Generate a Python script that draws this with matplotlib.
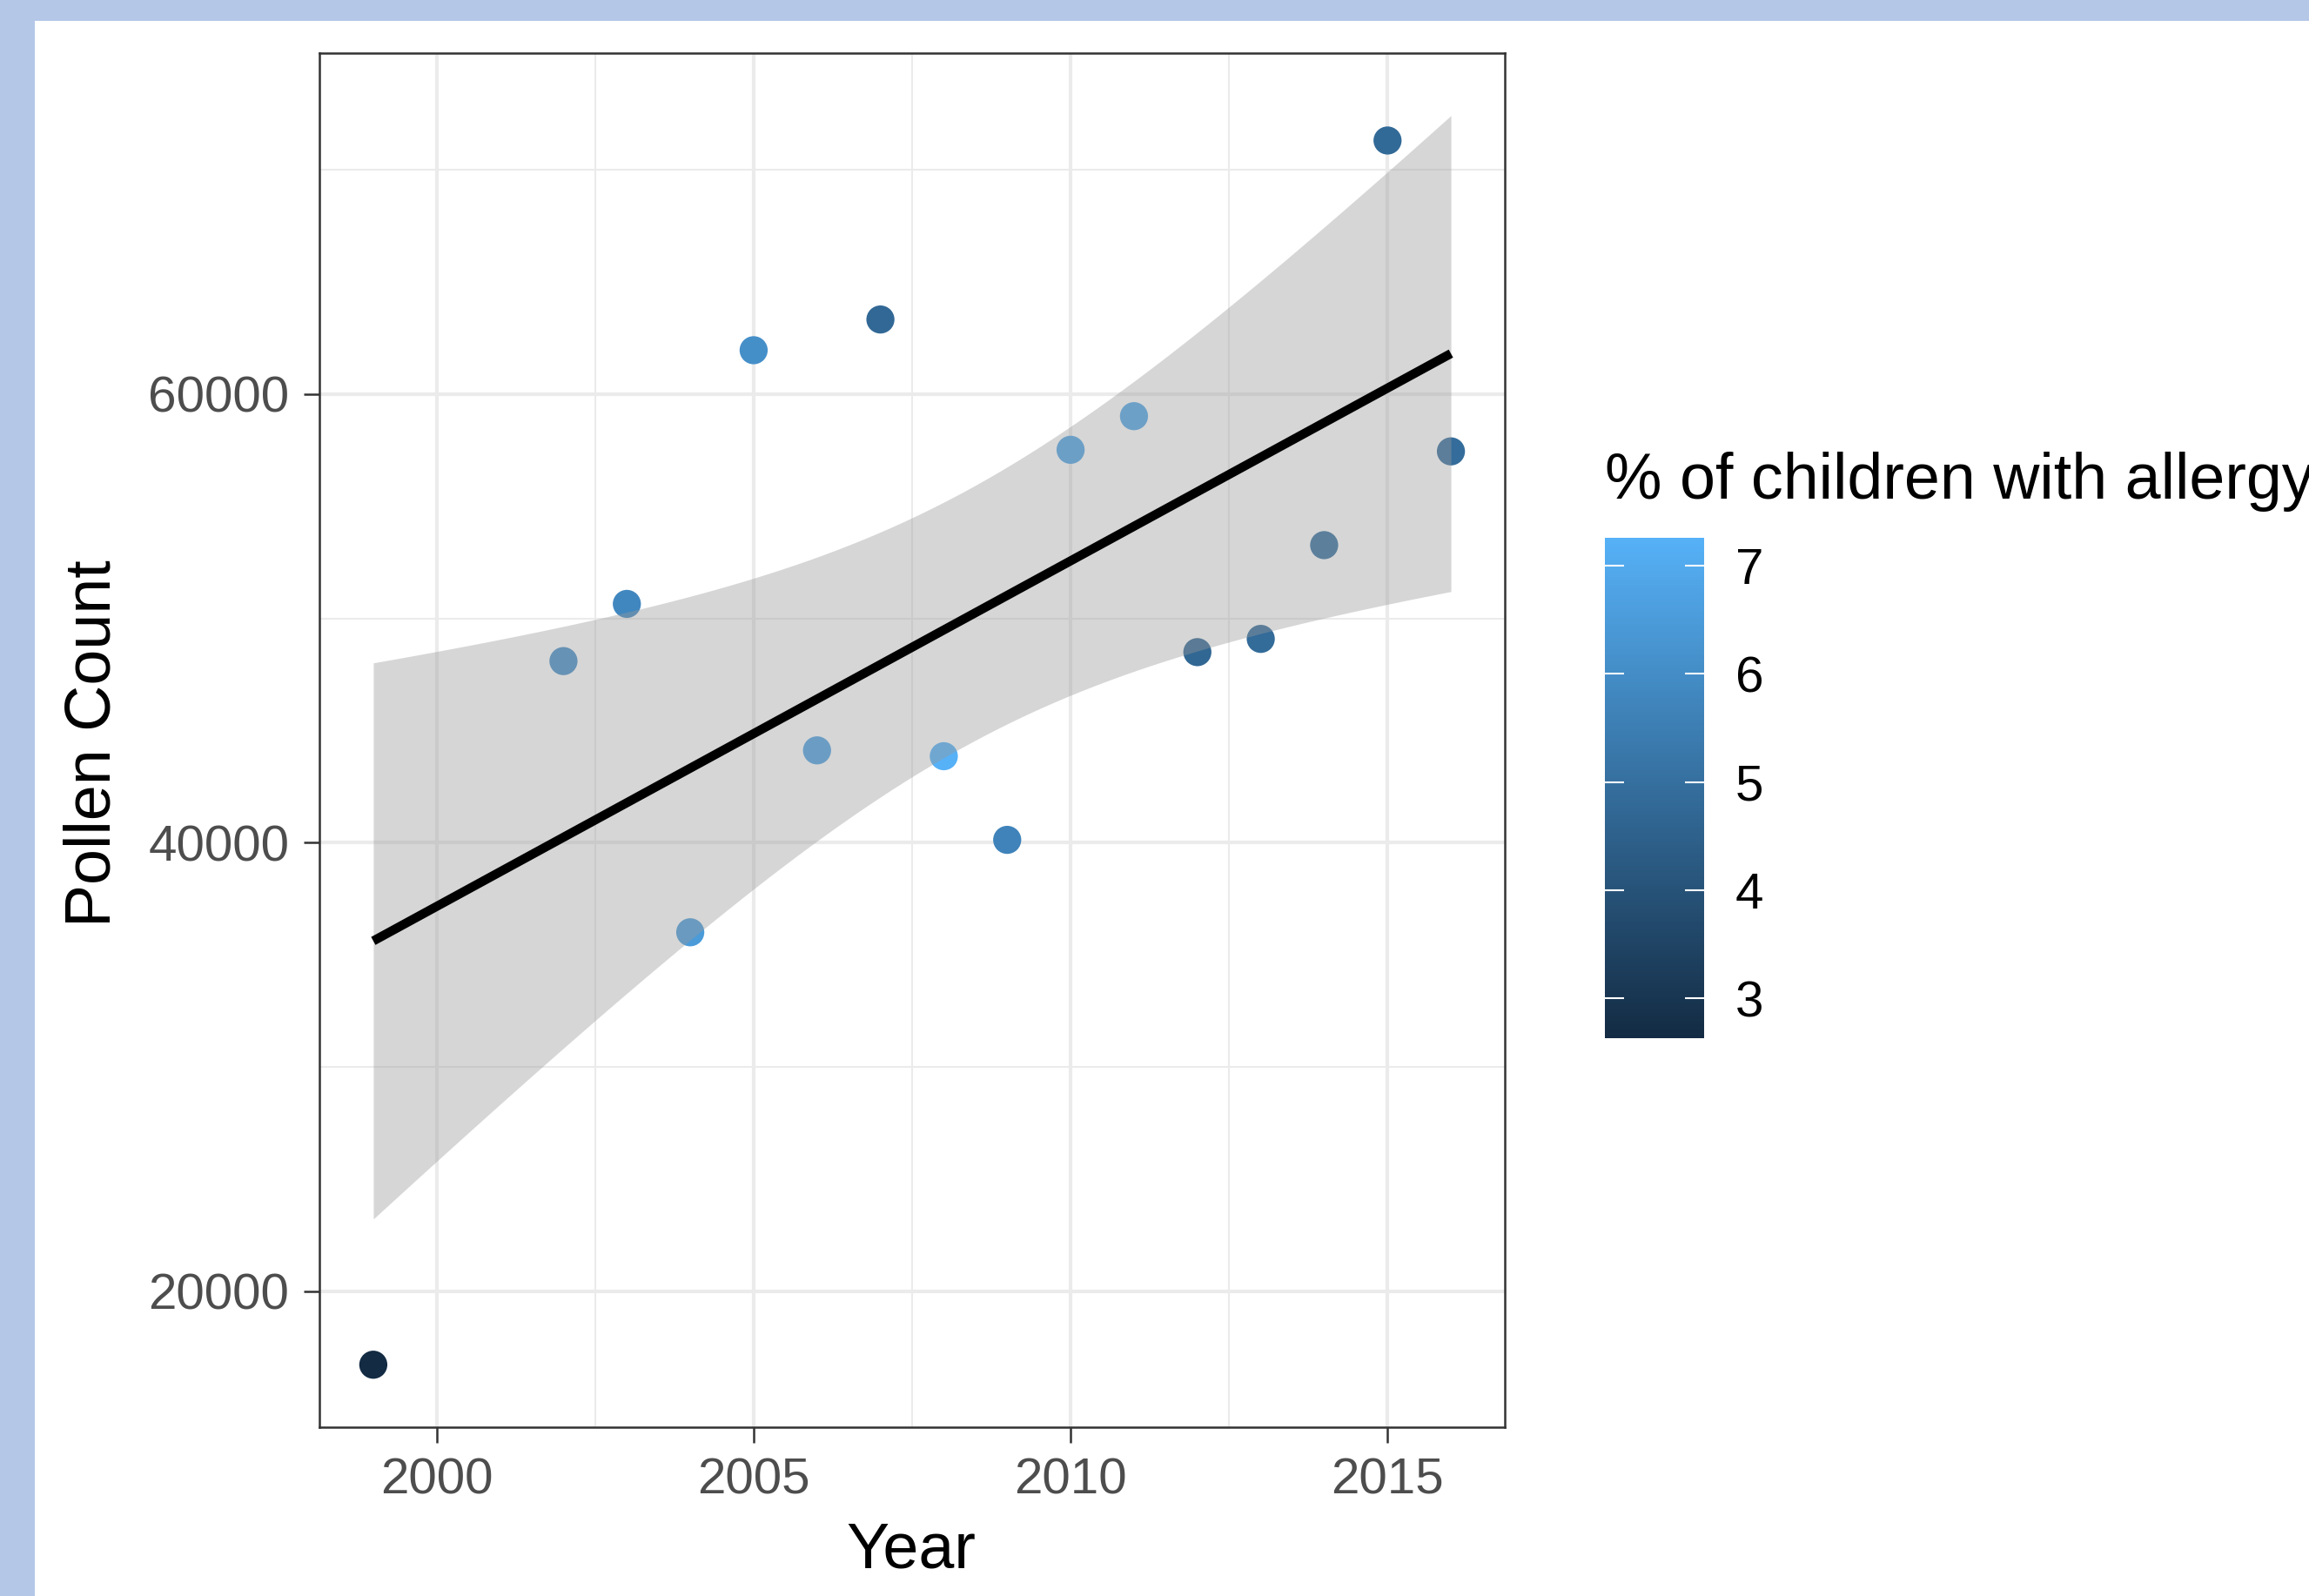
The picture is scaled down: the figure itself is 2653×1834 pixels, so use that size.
import numpy as np
import matplotlib
matplotlib.use('Agg')
import matplotlib.pyplot as plt
from matplotlib.colors import LinearSegmentedColormap, Normalize
from matplotlib.patches import Rectangle
from matplotlib.cm import ScalarMappable

plt.rcParams['font.family'] = ['Liberation Sans', 'DejaVu Sans']

# Data
years = [1999, 2002, 2003, 2004, 2005, 2006, 2007, 2008,
         2009, 2010, 2011, 2012, 2013, 2014, 2015, 2016]
pollen = [16730, 48100, 50650, 36010, 61960, 44120, 63330, 43860,
          40130, 57520, 59020, 48500, 49090, 53270, 71310, 57450]
allergy = [2.63, 6.05, 5.8, 6.5, 6.07, 6.7, 4.76, 7.26,
           5.67, 6.8, 6.85, 4.7, 4.85, 5.0, 4.8, 4.9]

x = np.array(years, dtype=float)
y = np.array(pollen, dtype=float)

# Linear fit with 95% confidence band (like geom_smooth(method='lm'))
n = len(x)
slope, icept = np.polyfit(x, y, 1)
resid = y - (slope * x + icept)
s = np.sqrt(np.sum(resid**2) / (n - 2))
t975 = 2.1448  # t quantile, df = 14
xs = np.linspace(x.min(), x.max(), 80)
fit = slope * xs + icept
se = s * np.sqrt(1 / n + (xs - x.mean())**2 / np.sum((x - x.mean())**2))
lo, hi = fit - t975 * se, fit + t975 * se

# ggplot default continuous colour scale
cmap = LinearSegmentedColormap.from_list('gg', ['#132B43', '#56B1F7'])
norm = Normalize(vmin=min(allergy), vmax=max(allergy))

W, H = 2653, 1834
fig = plt.figure(figsize=(W / 100, H / 100), dpi=100)
fig.patch.set_facecolor('#B4C7E7')
fig.add_artist(Rectangle((40 / W, 0), 1, 1 - 24 / H, transform=fig.transFigure,
                         facecolor='white', edgecolor='none', zorder=-1))

ax = fig.add_axes([367 / W, 1 - 1640 / H, (1729 - 367) / W, (1640 - 61) / H])

# Points, then the ribbon over them, then the line
ax.scatter(x, y, c=allergy, cmap=cmap, norm=norm, s=540, linewidths=0, zorder=3)
ax.fill_between(xs, lo, hi, color='#999999', alpha=0.4, linewidth=0, zorder=4)
ax.plot(xs, fit, color='black', lw=7.5, solid_capstyle='butt', zorder=5)

ax.set_xticks([2000, 2005, 2010, 2015])
ax.set_xticks([1997.5, 2002.5, 2007.5, 2012.5, 2017.5], minor=True)
ax.set_yticks([20000, 40000, 60000])
ax.set_yticks([10000, 30000, 50000, 70000], minor=True)

# Limits with 5% expansion (after ticks, so the minor ticks don't widen them)
xr = x.max() - x.min()
ax.set_xlim(x.min() - 0.05 * xr, x.max() + 0.05 * xr)
ymin = min(y.min(), lo.min())
ymax = max(y.max(), hi.max())
yr = ymax - ymin
ax.set_ylim(ymin - 0.05 * yr, ymax + 0.05 * yr)

ax.grid(which='major', color='#EBEBEB', lw=3, zorder=0)
ax.grid(which='minor', color='#EBEBEB', lw=1.5, zorder=0)
ax.set_axisbelow(True)

for sp in ax.spines.values():
    sp.set_color('#333333')
    sp.set_linewidth(1.8)

ax.tick_params(which='major', length=13, width=1.8, color='#333333',
               labelsize=42, labelcolor='#4D4D4D', pad=12)
ax.tick_params(which='minor', length=0)

fig.text(1047 / W, 1 - 1782 / H, 'Year', fontsize=53, ha='center', va='center')
fig.text(107 / W, 1 - 854 / H, 'Pollen Count', fontsize=53, ha='center',
         va='center', rotation=90)

# Colour bar legend
cax = fig.add_axes([1844 / W, 1 - 1193 / H, 114 / W, 575 / H])
cb = fig.colorbar(ScalarMappable(norm=norm, cmap=cmap), cax=cax)
cb.outline.set_visible(False)
cb.set_ticks([3, 4, 5, 6, 7])
cax.tick_params(axis='y', direction='in', length=16, width=1.5, color='white',
                left=True, right=True, labelleft=False, labelright=True,
                labelsize=42, labelcolor='black', pad=26)
fig.text(1844 / W, 1 - 553 / H, '% of children with allergy', fontsize=53,
         ha='left', va='center')

fig.savefig('out.png', dpi=100)
